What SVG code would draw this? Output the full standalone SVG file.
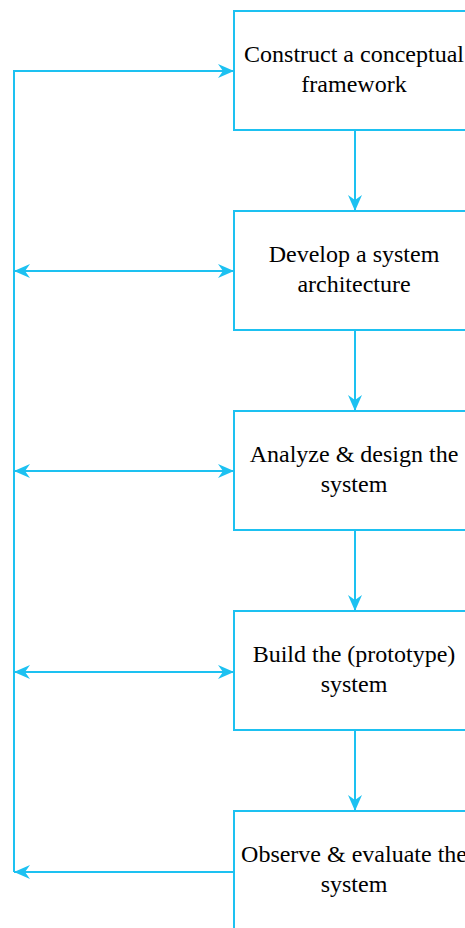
<svg xmlns="http://www.w3.org/2000/svg" width="465" height="928" viewBox="0 0 465 928">
<style>
.box{fill:#fff;stroke:#1DC1F1;stroke-width:2}
.ln{fill:none;stroke:#1DC1F1;stroke-width:2}
.t{font-family:'Liberation Serif','DejaVu Serif',serif;font-size:24px;fill:#000;text-anchor:middle}
</style>
<defs>
<marker id="ah" markerUnits="userSpaceOnUse" markerWidth="18" markerHeight="16" refX="16" refY="8" orient="auto-start-reverse">
<path d="M0,1 L16,8 L0,15 L5,8 z" fill="#1DC1F1"/>
</marker>
</defs>
<rect width="465" height="928" fill="#fff"/>
<g id="connectors">
<path class="ln" d="M234,71 H14 V872" marker-start="url(#ah)"/>
<path class="ln" d="M234,872 H14" marker-end="url(#ah)"/>
<path class="ln" d="M14,271 H234" marker-start="url(#ah)" marker-end="url(#ah)"/>
<path class="ln" d="M14,471 H234" marker-start="url(#ah)" marker-end="url(#ah)"/>
<path class="ln" d="M14,672 H234" marker-start="url(#ah)" marker-end="url(#ah)"/>
<path class="ln" d="M355,130 V211" marker-end="url(#ah)"/>
<path class="ln" d="M355,330 V411" marker-end="url(#ah)"/>
<path class="ln" d="M355,530 V611" marker-end="url(#ah)"/>
<path class="ln" d="M355,730 V811" marker-end="url(#ah)"/>
</g>
<g id="n1"><rect class="box" x="234" y="11" width="242" height="119"/>
<text class="t" x="354" y="62">Construct a conceptual</text><text class="t" x="354" y="92">framework</text></g>
<g id="n2"><rect class="box" x="234" y="211" width="242" height="119"/>
<text class="t" x="354" y="262">Develop a system</text><text class="t" x="354" y="292">architecture</text></g>
<g id="n3"><rect class="box" x="234" y="411" width="242" height="119"/>
<text class="t" x="354" y="462">Analyze &amp; design the</text><text class="t" x="354" y="492">system</text></g>
<g id="n4"><rect class="box" x="234" y="611" width="242" height="119"/>
<text class="t" x="354" y="662">Build the (prototype)</text><text class="t" x="354" y="692">system</text></g>
<g id="n5"><rect class="box" x="234" y="811" width="242" height="130"/>
<text class="t" x="354" y="862">Observe &amp; evaluate the</text><text class="t" x="354" y="892">system</text></g>
</svg>
